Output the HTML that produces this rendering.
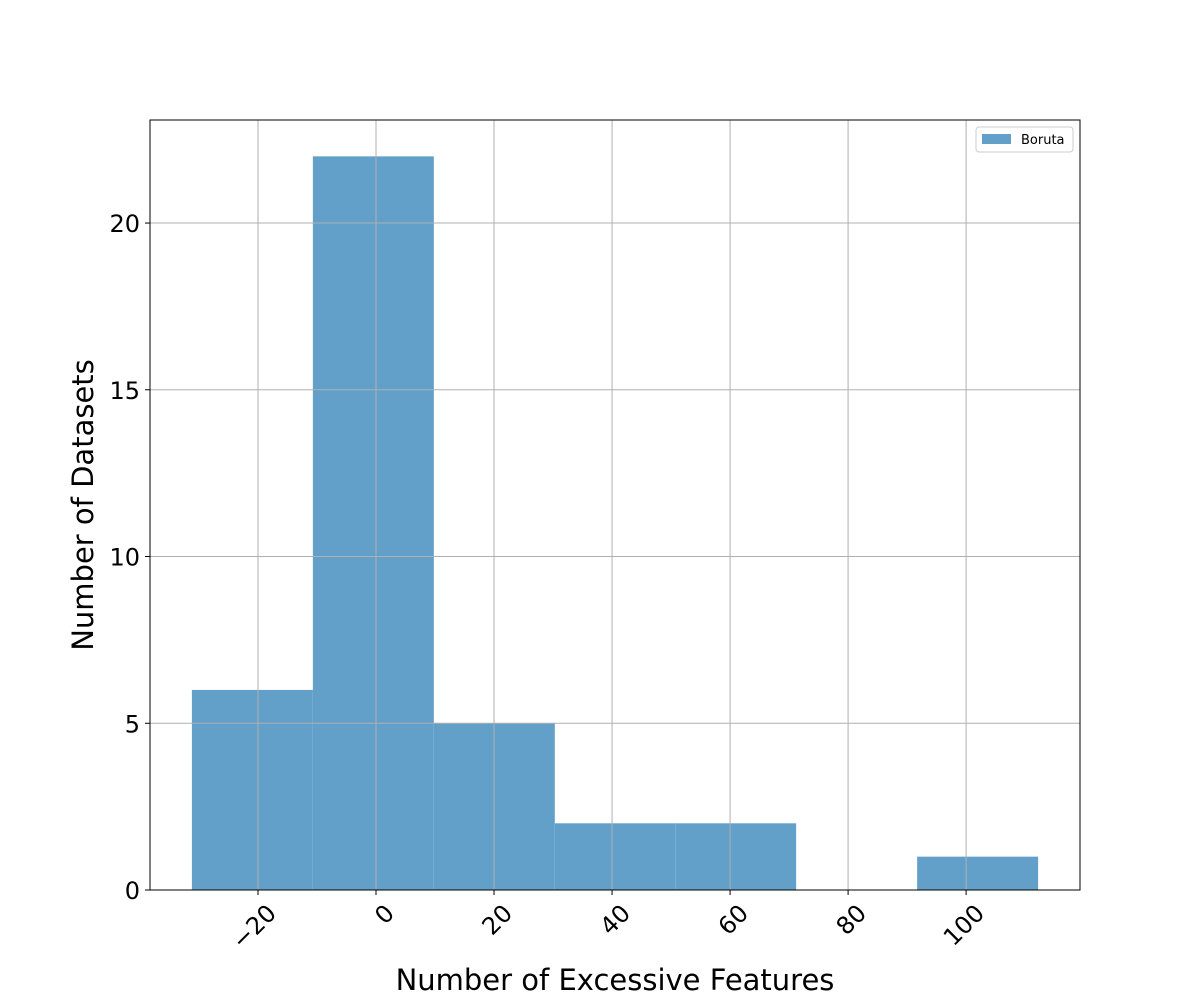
<!DOCTYPE html>
<html><head><meta charset="utf-8"><style>body{margin:0;background:#fff}svg{display:block;font-family:"DejaVu Sans","Liberation Sans",sans-serif}</style></head>
<body>
<svg id="c" width="1200" height="1000"></svg>
<script>
const binEdges=[-31.2,-10.7,9.8,30.3,50.8,71.2,91.7,112.2];
const counts=[6,22,5,2,2,0,1];
const xTicks=[-20,0,20,40,60,80,100];
const xTickLabels=["\u221220","0","20","40","60","80","100"];
const yTicks=[0,5,10,15,20];
const L=150,R=1080,T=120,B=890;
const xMin=-38.3,xMax=119.3,yMin=0,yMax=23.09;
const sx=v=>L+(v-xMin)/(xMax-xMin)*(R-L);
const sy=v=>B-(v-yMin)/(yMax-yMin)*(B-T);
const NS="http://www.w3.org/2000/svg",svg=document.getElementById('c');
function mk(t,a,p){const e=document.createElementNS(NS,t);for(const k in a)e.setAttribute(k,a[k]);(p||svg).appendChild(e);return e;}
for(let i=0;i<counts.length;i++){if(!counts[i])continue;
const r=mk('rect',{x:sx(binEdges[i]),y:sy(counts[i]),width:sx(binEdges[i+1])-sx(binEdges[i]),height:sy(0)-sy(counts[i]),fill:'#62a0ca'});

}
xTicks.forEach((v,i)=>{const x=sx(v);
const g=mk('line',{x1:x,x2:x,y1:T,y2:B,stroke:'#b0b0b0','stroke-width':1});


mk('line',{x1:x,x2:x,y1:B,y2:B+5,stroke:'#000'});
const t=mk('text',{transform:`translate(${x+7},${B+12}) rotate(-45)`,'text-anchor':'end',dy:'0.75em','font-size':24});
t.textContent=xTickLabels[i];

});
yTicks.forEach(v=>{const y=sy(v);
const g=mk('line',{x1:L,x2:R,y1:y,y2:y,stroke:'#b0b0b0','stroke-width':1});


mk('line',{x1:L-5,x2:L,y1:y,y2:y,stroke:'#000'});
const t=mk('text',{x:L-10,y:y+9,'text-anchor':'end','font-size':24});
t.textContent=v;

});
const fr=mk('rect',{x:L,y:T,width:R-L,height:B-T,fill:'none',stroke:'#000','stroke-width':1});


const xl=mk('text',{x:615,y:990,'text-anchor':'middle','font-size':29});xl.textContent='Number of Excessive Features';


const yl=mk('text',{transform:'translate(93,505) rotate(-90)','text-anchor':'middle','font-size':29});yl.textContent='Number of Datasets';


const lg=mk('g',{});


mk('rect',{x:976,y:127,width:97,height:25,rx:3,fill:'#fff',stroke:'#ccc'},lg);
mk('rect',{x:982,y:134,width:29,height:10,fill:'#62a0ca'},lg);
const lt=mk('text',{x:1021,y:144,'font-size':13},lg);lt.textContent='Boruta';


</script>
</body></html>
